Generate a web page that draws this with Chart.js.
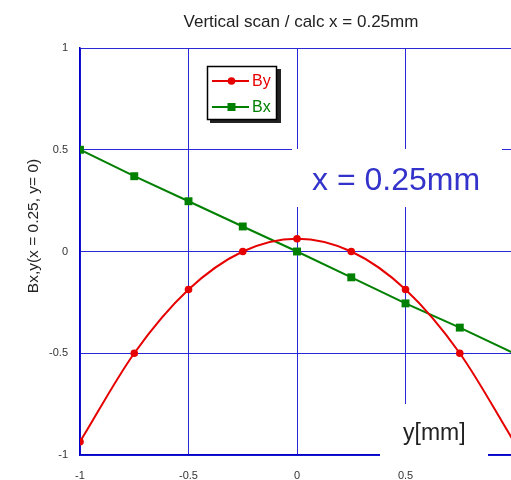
<!DOCTYPE html>
<html><head><meta charset="utf-8">
<script src="https://cdn.jsdelivr.net/npm/chart.js@4/dist/chart.umd.min.js"></script>
<style>html,body{margin:0;padding:0;background:#fff;overflow:hidden}#wrap{width:511px;height:480px;position:relative}</style>
</head><body><div id="wrap"><canvas id="c"></canvas></div>
<script>
const titleText = 'Vertical scan / calc x = 0.25mm';
const yAxisTitle = 'Bx,y(x = 0.25, y= 0)';
const xAxisTitle = 'y[mm]';
const annotationText = 'x = 0.25mm';
const seriesNames = ['By', 'Bx'];
const yPositions = [-1, -0.75, -0.5, -0.25, 0, 0.25, 0.5, 0.75, 1];
const byValues = [-0.935, -0.5, -0.187, 0, 0.063, 0, -0.187, -0.5, -0.935];
const bxValues = [0.5, 0.37, 0.247, 0.123, 0, -0.127, -0.255, -0.374, -0.5];
const xTicks = [-1, -0.5, 0, 0.5];
const yTicks = [-1, -0.5, 0, 0.5, 1];

const RED = 'rgb(230,0,0)', GREEN = 'rgb(0,128,0)', BLUE = 'rgb(40,40,215)', AXIS = 'rgb(0,0,200)';
const FONT = "'Liberation Sans', Arial, sans-serif";

const overlay = {
  id: 'overlay',
  beforeDatasetsDraw(chart) {
    const ctx = chart.ctx;
    ctx.save();
    ctx.fillStyle = '#fff';
    ctx.fillRect(292, 149, 210, 58);
    ctx.fillRect(380, 404, 108, 53);
    ctx.restore();
  },
  afterDraw(chart) {
    const ctx = chart.ctx;
    ctx.save();
    // title
    ctx.fillStyle = '#222';
    ctx.font = '17px ' + FONT;
    ctx.textAlign = 'center';
    ctx.textBaseline = 'alphabetic';
    ctx.fillText(titleText, 301, 27);
    // y axis title
    ctx.save();
    ctx.translate(34, 226);
    ctx.rotate(-Math.PI / 2);
    ctx.font = '15.5px ' + FONT;
    ctx.textBaseline = 'middle';
    ctx.fillText(yAxisTitle, 0, 0);
    ctx.restore();
    // annotation
    ctx.textAlign = 'left';
    ctx.fillStyle = '#3333cc';
    ctx.font = '32px ' + FONT;
    ctx.fillText(annotationText, 312, 190);
    ctx.fillStyle = '#222';
    ctx.font = '23px ' + FONT;
    ctx.fillText(xAxisTitle, 403, 440);
    // legend
    ctx.fillStyle = '#222';
    ctx.fillRect(210, 69, 71, 54);
    ctx.fillStyle = '#fff';
    ctx.fillRect(207, 66, 70, 54);
    ctx.strokeStyle = '#000';
    ctx.lineWidth = 1.5;
    ctx.strokeRect(207.5, 66.5, 69, 53);
    const items = [[seriesNames[0], RED, 81, 'circle'], [seriesNames[1], GREEN, 107, 'rect']];
    ctx.font = '16px ' + FONT;
    ctx.textBaseline = 'middle';
    for (const [name, col, y, st] of items) {
      ctx.strokeStyle = col; ctx.fillStyle = col; ctx.lineWidth = 2;
      ctx.beginPath(); ctx.moveTo(212, y); ctx.lineTo(249, y); ctx.stroke();
      if (st === 'circle') { ctx.beginPath(); ctx.arc(231.5, y, 3.8, 0, Math.PI * 2); ctx.fill(); }
      else { ctx.fillRect(227.5, y - 4, 8, 8); }
      ctx.fillText(name, 252, y + 1);
    }
    ctx.restore();
  }
};

new Chart(document.getElementById('c'), {
  type: 'line',
  data: {
    datasets: [
      {
        label: seriesNames[0],
        data: yPositions.map((p, i) => ({ x: p, y: byValues[i] })),
        borderColor: RED, backgroundColor: RED, borderWidth: 2,
        pointStyle: 'circle', pointRadius: [3.8, 3.8, 3.8, 3.8, 3.8, 3.8, 3.8, 3.8, 0], pointBorderWidth: 0,
        cubicInterpolationMode: 'monotone'
      },
      {
        label: seriesNames[1],
        data: yPositions.map((p, i) => ({ x: p, y: bxValues[i] })),
        borderColor: GREEN, backgroundColor: GREEN, borderWidth: 2,
        pointStyle: 'rect', pointRadius: [5.6, 5.6, 5.6, 5.6, 5.6, 5.6, 5.6, 5.6, 0], pointBorderWidth: 0,
        tension: 0
      }
    ]
  },
  options: {
    responsive: true, maintainAspectRatio: false, animation: false,
    layout: { autoPadding: false, padding: { top: 48, left: 0, right: 0, bottom: 0 } },
    plugins: { legend: { display: false }, tooltip: { enabled: false }, title: { display: false } },
    scales: {
      x: {
        type: 'linear', min: -1, max: 0.986,
        afterBuildTicks: s => { s.ticks = xTicks.map(v => ({ value: v })); },
        afterFit: s => { s.height = 25; s.paddingLeft = 0; s.paddingRight = 0; },
        ticks: { callback: v => String(v), font: { family: FONT, size: 11 }, color: '#333', padding: 14, maxRotation: 0, autoSkip: false },
        grid: { color: BLUE, drawTicks: false, lineWidth: 1 },
        border: { color: AXIS, width: 1.5 }
      },
      y: {
        type: 'linear', min: -1, max: 1,
        afterBuildTicks: s => { s.ticks = yTicks.map(v => ({ value: v })); },
        afterFit: s => { s.width = 80; s.paddingTop = 0; s.paddingBottom = 0; },
        ticks: { callback: v => String(v), font: { family: FONT, size: 11 }, color: '#333', padding: 12, autoSkip: false },
        grid: { color: BLUE, drawTicks: false, lineWidth: 1 },
        border: { color: AXIS, width: 1.5 }
      }
    }
  },
  plugins: [overlay]
});
</script></body></html>
